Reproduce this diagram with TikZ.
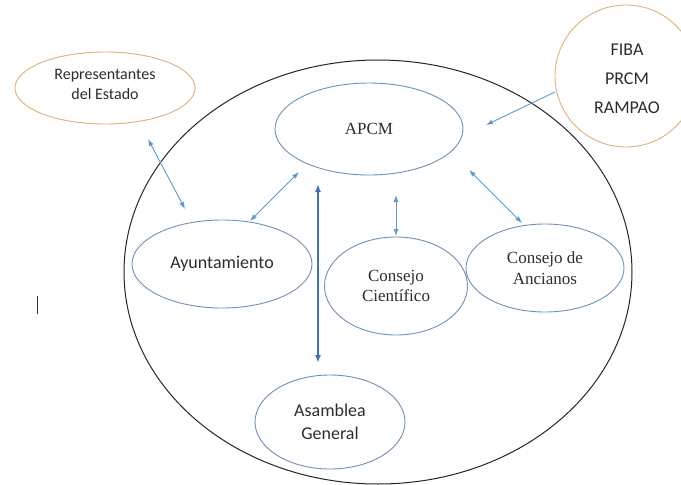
\documentclass[tikz,border=0pt]{standalone}
\usepackage{fontspec}
\setmainfont{Liberation Serif}
\newfontfamily\calib{Carlito}
\usetikzlibrary{shapes.geometric,arrows.meta}
\definecolor{ovl}{RGB}{110,145,185}
\definecolor{orng}{RGB}{222,178,120}
\definecolor{arr}{RGB}{95,155,205}
\definecolor{thk}{RGB}{70,110,190}
\definecolor{txt}{RGB}{45,45,45}
\tikzset{
  ov/.style={draw=ovl, line width=0.9pt, ellipse, inner sep=0pt, align=center, text=txt},
  orov/.style={draw=orng, line width=0.9pt, ellipse, inner sep=0pt, align=center, text=txt},
  sf/.style={font=\calib\fontsize{16}{20}\selectfont},
  sfbig/.style={font=\calib\fontsize{18}{23}\selectfont},
  rm/.style={font=\fontsize{17}{20.5}\selectfont},
  link/.style={draw=arr, line width=0.9pt, {Latex[length=7pt,width=5pt]}-{Latex[length=7pt,width=5pt]}},
  onelink/.style={draw=arr, line width=0.9pt, -{Latex[length=7pt,width=5pt]}},
  thick link/.style={draw=thk, line width=2pt, {Latex[length=8pt,width=6pt]}-{Latex[length=8pt,width=6pt]}}
}
\begin{document}
\begin{tikzpicture}[x=1pt,y=-1pt]
\useasboundingbox (0,0) rectangle (681,485);
\fill[white] (0,0) rectangle (681,485);
\begin{scope}
\clip (0,0) rectangle (681,485);
% big ellipse
\draw[draw=black!85, line width=1pt] (378,272) ellipse [x radius=254, y radius=212];
% FIBA circle
\node[orov, circle, minimum size=142pt] (fiba) at (626,76) {};
\node[text=txt, align=center, font=\calib\fontsize{18}{29}\selectfont] (fibat) at (627,79) {FIBA\\PRCM\\RAMPAO};
\end{scope}
\node[orov, minimum width=180pt, minimum height=72pt] (rep) at (105,88) {};
\node[text=txt, align=center, sf] (rept) at (105,84) {Representantes\\del Estado};
\node[ov, minimum width=188pt, minimum height=92pt, rm] (apcm) at (369,129) {APCM};
\node[ov, minimum width=180pt, minimum height=88pt, sfbig] (ayu) at (222,264) {Ayuntamiento};
\node[ov, minimum width=143pt, minimum height=98pt, rm] (cc) at (396,286) {Consejo\\Científico};
\node[ov, minimum width=158pt, minimum height=88pt, rm] (ca) at (545,268) {Consejo de\\Ancianos};
\node[ov, minimum width=150pt, minimum height=94pt, sfbig] (ag) at (330,422) {Asamblea\\General};
% connector end points
\coordinate (r1) at (148,139);
\coordinate (r2) at (185,209);
\coordinate (a1) at (250,221);
\coordinate (a2) at (299,172);
\coordinate (t1) at (318,184);
\coordinate (t2) at (318,363);
\coordinate (c1) at (396,195);
\coordinate (c2) at (396,236);
\coordinate (n1) at (469,170);
\coordinate (n2) at (522,223);
\coordinate (f1) at (555,92);
\coordinate (f2) at (486,125);
\draw[link] (r1) -- (r2);
\draw[link] (a1) -- (a2);
\draw[thick link] (t1) -- (t2);
\draw[link] (c1) -- (c2);
\draw[link] (n1) -- (n2);
\draw[onelink] (f1) -- (f2);
% cursor mark
\coordinate (cur1) at (37,296);
\coordinate (cur2) at (37,314);
\draw[black!80, line width=1pt] (cur1) -- (cur2);
\end{tikzpicture}
\end{document}
